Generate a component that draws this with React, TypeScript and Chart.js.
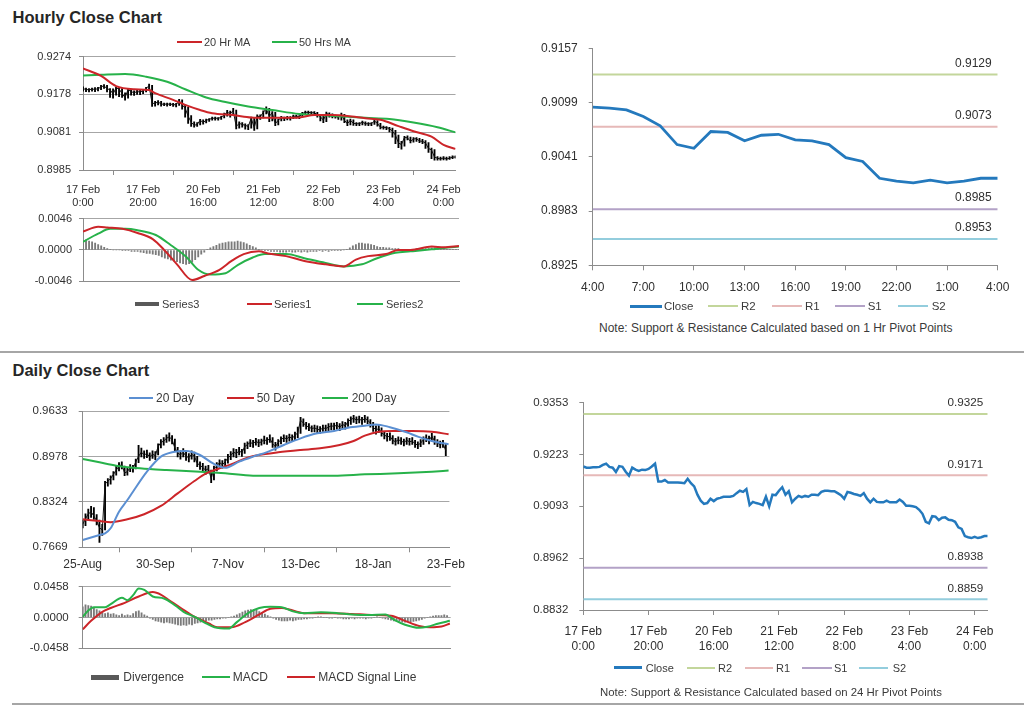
import React, { useEffect, useRef } from 'react';
import { Chart, registerables } from 'chart.js';

Chart.register(...registerables);

// ---------------- data: hourly (17 Feb 0:00 .. 24 Feb 4:00, trading hours) ----------------
const hourlyClose = [
  0.9193, 0.9190, 0.9190, 0.9191, 0.9191, 0.9192, 0.9197, 0.9200, 0.9192, 0.9190,
  0.9179, 0.9194, 0.9192, 0.9180, 0.9170, 0.9190, 0.9185, 0.9182, 0.9185, 0.9184,
  0.9187, 0.9193, 0.9200, 0.9155, 0.9155, 0.9159, 0.9153, 0.9153, 0.9153, 0.9153,
  0.9152, 0.9151, 0.9162, 0.9151, 0.9143, 0.9122, 0.9107, 0.9099, 0.9101, 0.9112,
  0.9106, 0.9112, 0.9114, 0.9117, 0.9117, 0.9117, 0.9119, 0.9126, 0.9132, 0.9129,
  0.9136, 0.9096, 0.9104, 0.9101, 0.9099, 0.9096, 0.9117, 0.9093, 0.9122, 0.9121,
  0.9132, 0.9141, 0.9122, 0.9131, 0.9103, 0.9112, 0.9119, 0.9116, 0.9119, 0.9117,
  0.9122, 0.9122, 0.9121, 0.9129, 0.9132, 0.9132, 0.9131, 0.9131, 0.9126, 0.9121,
  0.9112, 0.9129, 0.9127, 0.9124, 0.9122, 0.9119, 0.9126, 0.9112, 0.9103, 0.9112,
  0.9104, 0.9103, 0.9103, 0.9107, 0.9103, 0.9103, 0.9103, 0.9110, 0.9104, 0.9094,
  0.9094, 0.9093, 0.9091, 0.9084, 0.9074, 0.9054, 0.9050, 0.9068, 0.9067, 0.9058,
  0.9064, 0.9065, 0.9059, 0.9058, 0.9054, 0.9040, 0.9036, 0.9018, 0.9015, 0.9013,
  0.9016, 0.9013, 0.9015, 0.9018, 0.9018,
];
const hourlyHigh = [
  0.9197, 0.9194, 0.9193, 0.9194, 0.9195, 0.9196, 0.9201, 0.9203, 0.9201, 0.9193,
  0.9192, 0.9196, 0.9196, 0.9193, 0.9182, 0.9192, 0.9191, 0.9187, 0.9188, 0.9188,
  0.9190, 0.9196, 0.9204, 0.9201, 0.9160, 0.9162, 0.9160, 0.9156, 0.9156, 0.9156,
  0.9155, 0.9155, 0.9165, 0.9164, 0.9152, 0.9145, 0.9124, 0.9108, 0.9106, 0.9114,
  0.9113, 0.9115, 0.9116, 0.9120, 0.9120, 0.9119, 0.9122, 0.9130, 0.9137, 0.9135,
  0.9142, 0.9138, 0.9108, 0.9106, 0.9103, 0.9101, 0.9120, 0.9118, 0.9126, 0.9126,
  0.9136, 0.9146, 0.9142, 0.9134, 0.9132, 0.9115, 0.9122, 0.9120, 0.9122, 0.9121,
  0.9125, 0.9125, 0.9124, 0.9132, 0.9135, 0.9135, 0.9134, 0.9134, 0.9132, 0.9127,
  0.9122, 0.9133, 0.9131, 0.9128, 0.9125, 0.9124, 0.9130, 0.9127, 0.9113, 0.9115,
  0.9113, 0.9106, 0.9106, 0.9110, 0.9108, 0.9106, 0.9106, 0.9113, 0.9111, 0.9104,
  0.9097, 0.9096, 0.9094, 0.9092, 0.9086, 0.9074, 0.9058, 0.9071, 0.9072, 0.9069,
  0.9068, 0.9068, 0.9066, 0.9063, 0.9060, 0.9055, 0.9041, 0.9037, 0.9019, 0.9018,
  0.9019, 0.9018, 0.9019, 0.9021, 0.9021,
];
const hourlyLow = [
  0.9186, 0.9185, 0.9184, 0.9186, 0.9185, 0.9187, 0.9190, 0.9193, 0.9184, 0.9170,
  0.9168, 0.9176, 0.9172, 0.9170, 0.9163, 0.9168, 0.9176, 0.9175, 0.9178, 0.9177,
  0.9180, 0.9184, 0.9190, 0.9147, 0.9148, 0.9151, 0.9148, 0.9149, 0.9148, 0.9149,
  0.9147, 0.9146, 0.9150, 0.9140, 0.9120, 0.9104, 0.9096, 0.9094, 0.9096, 0.9100,
  0.9102, 0.9105, 0.9109, 0.9112, 0.9112, 0.9112, 0.9114, 0.9118, 0.9122, 0.9120,
  0.9126, 0.9090, 0.9092, 0.9094, 0.9089, 0.9088, 0.9092, 0.9086, 0.9090, 0.9114,
  0.9118, 0.9128, 0.9108, 0.9110, 0.9098, 0.9100, 0.9110, 0.9111, 0.9113, 0.9112,
  0.9116, 0.9117, 0.9116, 0.9120, 0.9127, 0.9127, 0.9126, 0.9126, 0.9120, 0.9110,
  0.9106, 0.9108, 0.9120, 0.9118, 0.9117, 0.9114, 0.9112, 0.9106, 0.9098, 0.9100,
  0.9099, 0.9098, 0.9098, 0.9100, 0.9099, 0.9098, 0.9098, 0.9101, 0.9097, 0.9090,
  0.9089, 0.9088, 0.9082, 0.9069, 0.9052, 0.9042, 0.9038, 0.9046, 0.9062, 0.9054,
  0.9056, 0.9058, 0.9055, 0.9052, 0.9040, 0.9030, 0.9014, 0.9010, 0.9010, 0.9010,
  0.9011, 0.9010, 0.9012, 0.9014, 0.9015,
];
const hourlyMA20Hours = [0, 6, 11, 17, 22, 24, 30, 34, 39, 43, 50, 56, 61, 66, 72, 77, 83, 88, 94, 99, 105, 110, 116, 120, 124];
const hourlyMA20 = [0.9244, 0.9225, 0.9199, 0.9191, 0.9189, 0.9181, 0.9164, 0.9151, 0.9138, 0.9130, 0.9125, 0.9119, 0.9118, 0.9118, 0.9119, 0.9125, 0.9125, 0.9123, 0.9117, 0.9113, 0.9097, 0.9084, 0.9070, 0.9049, 0.9039];
const hourlyMA50Hours = [0, 6, 14, 21, 28, 34, 41, 47, 55, 63, 72, 83, 94, 102, 110, 118, 124];
const hourlyMA50 = [0.9226, 0.9228, 0.9230, 0.9223, 0.9210, 0.9191, 0.9170, 0.9159, 0.9147, 0.9138, 0.9128, 0.9123, 0.9118, 0.9115, 0.9106, 0.9094, 0.9081];

const hourlySeries1Hours = [0, 5, 8, 13, 18, 23, 27, 31, 36, 40, 45, 49, 53, 58, 61, 67, 73, 80, 86, 90, 94, 100, 104, 108, 115, 119, 124];
const hourlySeries1 = [0.0027, 0.0034, 0.0033, 0.0031, 0.0025, 0.0016, -0.0001, -0.0021, -0.0044, -0.0038, -0.0029, -0.0016, -0.0006, -0.0002, -0.0005, -0.0009, -0.0016, -0.0021, -0.0024, -0.0014, -0.0009, -0.0006, 0.0000, 0.0000, 0.0005, 0.0004, 0.0006];
const hourlySeries2Hours = [0, 5, 9, 14, 18, 24, 29, 34, 38, 42, 47, 51, 56, 60, 67, 73, 80, 86, 92, 97, 103, 108, 115, 119, 124];
const hourlySeries2 = [0.0012, 0.0024, 0.0031, 0.0031, 0.0029, 0.0022, 0.0007, -0.0010, -0.0029, -0.0036, -0.0034, -0.0022, -0.0011, -0.0006, -0.0006, -0.0012, -0.0019, -0.0024, -0.0021, -0.0012, -0.0004, -0.0002, 0.0001, 0.0003, 0.0005];
const hourlySeries3 = [
  0.0014, 0.0015, 0.0013, 0.0012, 0.0010, 0.0008, 0.0006, 0.0004, 0.0002, 0.0001,
  0.0000, 0.0000, 0.0000, -0.0001, -0.0001, -0.0001, -0.0002, -0.0002, -0.0002, -0.0003,
  -0.0004, -0.0005, -0.0005, -0.0006, -0.0007, -0.0008, -0.0010, -0.0012, -0.0013, -0.0015,
  -0.0016, -0.0017, -0.0019, -0.0020, -0.0021, -0.0020, -0.0018, -0.0014, -0.0010, -0.0006,
  -0.0003, 0.0001, 0.0003, 0.0005, 0.0007, 0.0009, 0.0010, 0.0011, 0.0012, 0.0012,
  0.0012, 0.0013, 0.0012, 0.0011, 0.0009, 0.0007, 0.0005, 0.0003, 0.0001, 0.0000,
  -0.0001, -0.0001, -0.0002, -0.0002, -0.0002, -0.0003, -0.0003, -0.0003, -0.0002, -0.0003,
  -0.0003, -0.0002, -0.0003, -0.0002, -0.0003, -0.0002, -0.0002, -0.0002, -0.0001, -0.0002,
  -0.0001, -0.0002, -0.0001, -0.0001, -0.0001, -0.0001, 0.0000, 0.0001, 0.0003, 0.0006,
  0.0008, 0.0010, 0.0010, 0.0009, 0.0009, 0.0008, 0.0007, 0.0005, 0.0004, 0.0004,
  0.0003, 0.0003, 0.0002, 0.0002, 0.0002, 0.0001, 0.0001, 0.0001, 0.0001, 0.0001,
  0.0002, 0.0002, 0.0002, 0.0002, 0.0002, 0.0003, 0.0003, 0.0002, 0.0002, 0.0002,
  0.0001, 0.0001, 0.0001, 0.0001, 0.0001,
];
const hourlyXMax = 124;
const hourlyXTicks = [0, 20, 40, 60, 80, 100, 120];
const hourlyXLabels = [['17 Feb', '0:00'], ['17 Feb', '20:00'], ['20 Feb', '16:00'], ['21 Feb', '12:00'], ['22 Feb', '8:00'], ['23 Feb', '4:00'], ['24 Feb', '0:00']];
const hourlyPriceTicks = [0.8985, 0.9081, 0.9178, 0.9274];
const hourlyMacdTicks = [-0.0046, 0.0, 0.0046];

// ---------------- data: 1 Hr pivot chart (last 24 hours) ----------------
const hourPivotStart = 100;
const hourPivotXMax = 24;
const hourPivotXTicks = [0, 3, 6, 9, 12, 15, 18, 21, 24];
const hourPivotXLabels = ['4:00', '7:00', '10:00', '13:00', '16:00', '19:00', '22:00', '1:00', '4:00'];
const hourPivotTicks = [0.8925, 0.8983, 0.9041, 0.9099, 0.9157];
const pivotNames = ['R2', 'R1', 'S1', 'S2'];
const hourPivotValues = [0.9129, 0.9073, 0.8985, 0.8953];

// ---------------- data: 24 Hr pivot chart ----------------
const dayPivotTicks = [0.8832, 0.8962, 0.9093, 0.9223, 0.9353];
const dayPivotValues = [0.9325, 0.9171, 0.8938, 0.8859];

// ---------------- data: daily (25-Aug .. 23-Feb, trading days) ----------------
const dailyClose = [
  0.800, 0.808, 0.815, 0.818, 0.812, 0.805, 0.795, 0.792, 0.858, 0.862,
  0.866, 0.872, 0.878, 0.884, 0.886, 0.874, 0.876, 0.882, 0.880, 0.890,
  0.898, 0.904, 0.900, 0.902, 0.897, 0.901, 0.899, 0.912, 0.918, 0.920,
  0.924, 0.926, 0.922, 0.910, 0.903, 0.900, 0.904, 0.898, 0.896, 0.901,
  0.898, 0.888, 0.885, 0.882, 0.878, 0.880, 0.866, 0.880, 0.884, 0.889,
  0.886, 0.890, 0.896, 0.899, 0.904, 0.902, 0.906, 0.903, 0.912, 0.915,
  0.918, 0.916, 0.920, 0.917, 0.919, 0.922, 0.920, 0.924, 0.916, 0.912,
  0.918, 0.922, 0.925, 0.923, 0.926, 0.924, 0.928, 0.932, 0.950, 0.946,
  0.942, 0.940, 0.938, 0.939, 0.937, 0.936, 0.939, 0.938, 0.940, 0.942,
  0.941, 0.943, 0.940, 0.944, 0.942, 0.948, 0.951, 0.953, 0.950, 0.952,
  0.949, 0.953, 0.950, 0.946, 0.940, 0.936, 0.938, 0.932, 0.929, 0.926,
  0.927, 0.921, 0.919, 0.922, 0.920, 0.918, 0.921, 0.919, 0.920, 0.916,
  0.914, 0.917, 0.922, 0.925, 0.921, 0.927, 0.920, 0.917, 0.915, 0.917,
  0.906,
];
const dailyHigh = [
  0.806, 0.815, 0.822, 0.826, 0.824, 0.814, 0.806, 0.800, 0.862, 0.866,
  0.870, 0.876, 0.884, 0.889, 0.890, 0.884, 0.881, 0.886, 0.885, 0.894,
  0.914, 0.910, 0.906, 0.907, 0.903, 0.906, 0.905, 0.916, 0.922, 0.925,
  0.929, 0.932, 0.928, 0.923, 0.911, 0.906, 0.909, 0.905, 0.902, 0.906,
  0.904, 0.898, 0.890, 0.888, 0.884, 0.885, 0.878, 0.884, 0.889, 0.893,
  0.892, 0.894, 0.901, 0.905, 0.909, 0.908, 0.911, 0.908, 0.917, 0.919,
  0.922, 0.921, 0.924, 0.922, 0.923, 0.927, 0.925, 0.929, 0.925, 0.918,
  0.922, 0.926, 0.929, 0.928, 0.930, 0.929, 0.933, 0.940, 0.954, 0.952,
  0.947, 0.945, 0.942, 0.943, 0.942, 0.941, 0.943, 0.943, 0.945, 0.946,
  0.946, 0.947, 0.945, 0.948, 0.947, 0.952, 0.955, 0.957, 0.955, 0.956,
  0.954, 0.957, 0.955, 0.951, 0.947, 0.942, 0.943, 0.939, 0.934, 0.931,
  0.932, 0.928, 0.924, 0.926, 0.925, 0.923, 0.925, 0.924, 0.925, 0.921,
  0.919, 0.922, 0.926, 0.929, 0.927, 0.931, 0.927, 0.922, 0.920, 0.921,
  0.916,
];
const dailyLow = [
  0.795, 0.798, 0.806, 0.810, 0.807, 0.799, 0.774, 0.784, 0.792, 0.855,
  0.858, 0.864, 0.871, 0.877, 0.880, 0.870, 0.871, 0.876, 0.875, 0.880,
  0.889, 0.897, 0.895, 0.896, 0.892, 0.895, 0.893, 0.900, 0.910, 0.914,
  0.918, 0.920, 0.916, 0.906, 0.897, 0.894, 0.897, 0.892, 0.890, 0.894,
  0.890, 0.883, 0.879, 0.876, 0.872, 0.874, 0.860, 0.864, 0.877, 0.882,
  0.881, 0.884, 0.888, 0.893, 0.897, 0.896, 0.900, 0.898, 0.902, 0.909,
  0.912, 0.911, 0.914, 0.912, 0.914, 0.916, 0.915, 0.918, 0.911, 0.907,
  0.911, 0.916, 0.919, 0.918, 0.920, 0.919, 0.921, 0.925, 0.931, 0.941,
  0.937, 0.935, 0.933, 0.933, 0.932, 0.931, 0.934, 0.933, 0.935, 0.936,
  0.936, 0.937, 0.935, 0.938, 0.937, 0.941, 0.944, 0.947, 0.945, 0.946,
  0.944, 0.947, 0.945, 0.940, 0.934, 0.930, 0.932, 0.927, 0.923, 0.920,
  0.921, 0.916, 0.914, 0.916, 0.915, 0.913, 0.915, 0.914, 0.915, 0.911,
  0.909, 0.912, 0.915, 0.919, 0.916, 0.920, 0.915, 0.912, 0.910, 0.911,
  0.899,
];
const daily20Days = [0, 6, 8, 10, 13, 16, 18, 23, 28, 32, 37, 42, 47, 51, 56, 61, 66, 72, 78, 84, 90, 95, 101, 105, 110, 116, 120, 125, 131];
const daily20 = [0.7774, 0.7846, 0.7870, 0.7943, 0.8182, 0.8350, 0.8470, 0.8759, 0.8975, 0.9038, 0.9057, 0.8999, 0.8870, 0.8815, 0.8903, 0.8975, 0.9040, 0.9143, 0.9239, 0.9311, 0.9345, 0.9393, 0.9422, 0.9440, 0.9400, 0.9326, 0.9263, 0.9201, 0.9153];
const daily50Days = [0, 6, 10, 16, 22, 28, 34, 40, 44, 49, 54, 59, 63, 70, 78, 85, 92, 97, 101, 106, 111, 118, 125, 131];
const daily50 = [0.8072, 0.8048, 0.8031, 0.8072, 0.8145, 0.8265, 0.8446, 0.8624, 0.8730, 0.8807, 0.8879, 0.8960, 0.8999, 0.9038, 0.9071, 0.9095, 0.9143, 0.9201, 0.9278, 0.9335, 0.9345, 0.9345, 0.9335, 0.9297];
const daily200Days = [0, 6, 12, 18, 24, 30, 42, 51, 61, 78, 90, 101, 113, 125, 131];
const daily200 = [0.8941, 0.8893, 0.8845, 0.8816, 0.8797, 0.8783, 0.8759, 0.8735, 0.8701, 0.8701, 0.8701, 0.8720, 0.8735, 0.8759, 0.8775];

const dailyMacdDays = [0, 2, 4, 8, 10, 14, 16, 18, 20, 22, 25, 29, 33, 36, 40, 44, 47, 52, 55, 59, 63, 67, 71, 75, 79, 85, 91, 96, 102, 108, 111, 115, 120, 123, 127, 131];
const dailyMacd = [0.0008, 0.0104, 0.0154, 0.0154, 0.0200, 0.0296, 0.0258, 0.0335, 0.0435, 0.0412, 0.0315, 0.0285, 0.0181, 0.0085, 0.0008, -0.0088, -0.0146, -0.0165, -0.0069, 0.0065, 0.0142, 0.0162, 0.0155, 0.0092, 0.0065, 0.0077, 0.0065, 0.0046, 0.0038, 0.0046, -0.0031, -0.0108, -0.0154, -0.0138, -0.0089, -0.0050];
const dailySignalDays = [0, 3, 7, 10, 15, 20, 25, 28, 31, 35, 40, 45, 48, 53, 58, 63, 67, 71, 75, 79, 89, 96, 103, 110, 115, 120, 124, 128, 131];
const dailySignal = [-0.0177, -0.0050, 0.0085, 0.0142, 0.0220, 0.0315, 0.0380, 0.0340, 0.0255, 0.0142, 0.0008, -0.0089, -0.0146, -0.0146, -0.0069, 0.0046, 0.0131, 0.0142, 0.0104, 0.0065, 0.0065, 0.0054, 0.0038, 0.0027, -0.0050, -0.0127, -0.0146, -0.0135, -0.0089];
const dailyDivergence = [
  0.016, 0.019, 0.018, 0.017, 0.014, 0.012, 0.010, 0.007, 0.006, 0.007,
  0.005, 0.006, 0.004, 0.003, 0.005, 0.003, 0.004, 0.003, 0.006, 0.009,
  0.010, 0.007, 0.004, 0.002, -0.001, -0.003, -0.005, -0.006, -0.007, -0.008,
  -0.007, -0.008, -0.009, -0.010, -0.011, -0.012, -0.011, -0.012, -0.010, -0.011,
  -0.009, -0.008, -0.007, -0.006, -0.005, -0.004, -0.004, -0.003, -0.002, -0.002,
  -0.001, -0.001, 0.000, 0.001, 0.002, 0.004, 0.006, 0.008, 0.010, 0.011,
  0.012, 0.012, 0.011, 0.009, 0.007, 0.005, 0.003, 0.001, -0.001, -0.003,
  -0.004, -0.005, -0.005, -0.005, -0.004, -0.005, -0.004, -0.003, -0.003, -0.002,
  -0.002, -0.001, -0.001, 0.000, 0.001, 0.001, 0.000, 0.000, -0.001, -0.001,
  0.000, -0.001, -0.001, -0.002, -0.002, -0.002, -0.001, -0.002, -0.001, -0.001,
  -0.001, -0.002, -0.001, -0.001, 0.000, 0.001, 0.000, -0.001, -0.002, -0.003,
  -0.004, -0.005, -0.006, -0.006, -0.007, -0.007, -0.006, -0.007, -0.006, -0.005,
  -0.004, -0.003, -0.001, 0.000, 0.001, 0.002, 0.003, 0.003, 0.003, 0.004,
  0.003,
];
const dailyXMax = 131.3;
const dailyXTicks = [0, 26, 52, 78, 104, 130];
const dailyXLabels = ['25-Aug', '30-Sep', '7-Nov', '13-Dec', '18-Jan', '23-Feb'];
const dailyPriceTicks = [0.7669, 0.8324, 0.8978, 0.9633];
const dailyMacdTicks = [-0.0458, 0.0, 0.0458];

// ---------------- styling ----------------
const FONT = 'Arial, "Liberation Sans", Helvetica, sans-serif';
const TICK_TEXT = '#303030';
const LEGEND_TEXT = '#3a3a3a';
const GRID = '#a6a6a6';
const AXIS = '#8c8c8c';
const RED = '#cc2529';
const GREEN = '#27b24a';
const BLUE20 = '#5b8fd2';
const CLOSE_BLUE = '#2479bd';
const PIVOT_COLORS = ['#c3d69b', '#e6b9b8', '#b3a2c7', '#93cddd'];
const HIST = '#7a7a7a';

// ---------------- helpers ----------------
const seq = (ys: number[]) => ys.map((y, i) => ({ x: i, y }));
const pairs = (xs: number[], ys: number[]) => xs.map((x, i) => ({ x, y: ys[i] }));
const spans = (lo: number[], hi: number[]) => lo.map((l, i) => ({ x: i, y: [l, hi[i]] }));
const flat = (v: number, max: number) => [{ x: 0, y: v }, { x: max, y: v }];

const line = (data: any[], color: string, width: number, order = 1, smooth = true) => ({
  type: 'line',
  data,
  borderColor: color,
  backgroundColor: color,
  borderWidth: width,
  pointRadius: 0,
  fill: false,
  tension: 0,
  cubicInterpolationMode: smooth ? 'monotone' : 'default',
  order,
});
const bars = (data: any[], color: string, thickness: number, order = 5) => ({
  type: 'bar',
  data,
  backgroundColor: color,
  borderWidth: 0,
  barThickness: thickness,
  grouped: false,
  order,
});

function xAxis(o: any) {
  return {
    type: 'linear',
    min: 0,
    max: o.max,
    offset: false,
    afterBuildTicks: (a: any) => {
      a.ticks = o.ticks.map((v: number) => ({ value: v }));
    },
    afterFit: (a: any) => {
      a.height = o.height;
    },
    ticks: {
      display: o.show,
      autoSkip: false,
      maxRotation: 0,
      minRotation: 0,
      padding: o.pad || 0,
      color: TICK_TEXT,
      font: { family: FONT, size: o.size || 11, lineHeight: o.lineHeight || 1.2 },
      callback: (_v: any, i: number) => (o.labels ? o.labels[i] : ''),
    },
    grid: { display: o.show, drawOnChartArea: false, drawTicks: true, tickLength: 5, color: AXIS, tickColor: AXIS },
    border: { display: true, color: AXIS, width: 1 },
  };
}

function yAxis(o: any) {
  return {
    type: 'linear',
    min: o.ticks[0],
    max: o.ticks[o.ticks.length - 1],
    afterBuildTicks: (a: any) => {
      a.ticks = o.ticks.map((v: number) => ({ value: v }));
    },
    afterFit: (a: any) => {
      a.width = o.width;
    },
    ticks: {
      padding: o.pad,
      color: TICK_TEXT,
      font: { family: FONT, size: o.size },
      callback: (v: any) => Number(v).toFixed(4),
    },
    grid: { drawOnChartArea: o.gridOn, drawTicks: true, tickLength: 4, color: GRID, tickColor: AXIS },
    border: { display: true, color: AXIS, width: 1 },
  };
}

function baseOptions(x: any, y: any, padding: any, plugins: any = {}) {
  return {
    responsive: false,
    maintainAspectRatio: false,
    animation: false,
    devicePixelRatio: 1,
    events: [],
    layout: { padding },
    plugins: { legend: { display: false }, tooltip: { enabled: false }, title: { display: false }, ...plugins },
    scales: { x, y },
  };
}

const pivotLabelPlugin = {
  id: 'pivotLabels',
  afterDatasetsDraw(chart: any, _args: any, opts: any) {
    const { ctx, chartArea, scales } = chart;
    ctx.save();
    ctx.font = `${opts.size}px ${FONT}`;
    ctx.fillStyle = TICK_TEXT;
    ctx.textAlign = 'right';
    ctx.textBaseline = 'bottom';
    (opts.levels || []).forEach((v: number) => {
      const y = scales.y.getPixelForValue(v);
      ctx.fillText(v.toFixed(4), chartArea.right - opts.inset, y - opts.gap);
    });
    ctx.restore();
  },
};

// ---------------- chart configs ----------------
const hourlyPriceConfig = () => ({
  type: 'line',
  data: {
    datasets: [
      line(pairs(hourlyMA20Hours, hourlyMA20), RED, 2, 1),
      line(pairs(hourlyMA50Hours, hourlyMA50), GREEN, 2, 1),
      line(seq(hourlyClose), '#111', 1, 2, false),
      bars(spans(hourlyLow, hourlyHigh), '#000', 1.2, 3),
    ],
  },
  options: baseOptions(
    xAxis({ max: hourlyXMax, ticks: hourlyXTicks, labels: hourlyXLabels, size: 11, lineHeight: 1.12, pad: 9, height: 45, show: true }),
    yAxis({ ticks: hourlyPriceTicks, width: 83, size: 11, pad: 8 }),
    { top: 26.7, right: 11, left: 0, bottom: 0 }
  ),
});

const hourlyMacdConfig = () => ({
  type: 'line',
  data: {
    datasets: [
      line(pairs(hourlySeries1Hours, hourlySeries1), RED, 2, 1),
      line(pairs(hourlySeries2Hours, hourlySeries2), GREEN, 2, 1),
      bars(seq(hourlySeries3), HIST, 1.2, 3),
    ],
  },
  options: baseOptions(
    xAxis({ max: hourlyXMax, ticks: hourlyXTicks, height: 7.3, show: false }),
    yAxis({ ticks: hourlyMacdTicks, width: 83, size: 11, pad: 7, gridOn: true }),
    { top: 11.7, right: 11, left: 0, bottom: 0 }
  ),
});

const hourPivotConfig = () => ({
  type: 'line',
  data: {
    datasets: [
      line(seq(hourlyClose.slice(hourPivotStart)), CLOSE_BLUE, 2.8, 1, false),
      ...hourPivotValues.map((v, i) => ({ ...line(flat(v, hourPivotXMax), PIVOT_COLORS[i], 2, 2, false), label: pivotNames[i] })),
    ],
  },
  options: baseOptions(
    xAxis({ max: hourPivotXMax, ticks: hourPivotXTicks, labels: hourPivotXLabels, size: 12, lineHeight: 1.2, pad: 10, height: 39.7, show: true }),
    yAxis({ ticks: hourPivotTicks, width: 92.7, size: 12, pad: 11, gridOn: false }),
    { top: 17.3, right: 26.3, left: 0, bottom: 0 },
    { pivotLabels: { levels: hourPivotValues, size: 12, inset: 6, gap: 5 } }
  ),
  plugins: [pivotLabelPlugin],
});

const dailyPriceConfig = () => ({
  type: 'line',
  data: {
    datasets: [
      line(pairs(daily20Days, daily20), BLUE20, 2, 1),
      line(pairs(daily50Days, daily50), RED, 2, 1),
      line(pairs(daily200Days, daily200), GREEN, 2, 1),
      line(seq(dailyClose), '#111', 1, 2, false),
      bars(spans(dailyLow, dailyHigh), '#000', 1.2, 3),
    ],
  },
  options: baseOptions(
    xAxis({ max: dailyXMax, ticks: dailyXTicks, labels: dailyXLabels, size: 12, lineHeight: 1.2, pad: 5, height: 32.7, show: true }),
    yAxis({ ticks: dailyPriceTicks, width: 82.7, size: 11.5, pad: 11, gridOn: true }),
    { top: 26, right: 20, left: 0, bottom: 0 }
  ),
});

const dailyMacdConfig = () => ({
  type: 'line',
  data: {
    datasets: [
      line(pairs(dailyMacdDays, dailyMacd), GREEN, 2, 1),
      line(pairs(dailySignalDays, dailySignal), RED, 2, 1),
      bars(seq(dailyDivergence), HIST, 1.2, 3),
    ],
  },
  options: baseOptions(
    xAxis({ max: dailyXMax, ticks: dailyXTicks, height: 5.7, show: false }),
    yAxis({ ticks: dailyMacdTicks, width: 82.7, size: 11.5, pad: 10, gridOn: true }),
    { top: 10, right: 19.3, left: 0, bottom: 0 }
  ),
});

const dayPivotConfig = () => ({
  type: 'line',
  data: {
    datasets: [
      line(seq(hourlyClose), CLOSE_BLUE, 2.5, 1, false),
      ...dayPivotValues.map((v, i) => ({ ...line(flat(v, hourlyXMax), PIVOT_COLORS[i], 2, 2, false), label: pivotNames[i] })),
    ],
  },
  options: baseOptions(
    xAxis({ max: hourlyXMax, ticks: hourlyXTicks, labels: hourlyXLabels, size: 12, lineHeight: 1.27, pad: 9, height: 50, show: true }),
    yAxis({ ticks: dayPivotTicks, width: 83.3, size: 11.5, pad: 11, gridOn: false }),
    { top: 15.7, right: 36.3, left: 0, bottom: 0 },
    { pivotLabels: { levels: dayPivotValues, size: 11.7, inset: 4.5, gap: 5 } }
  ),
  plugins: [pivotLabelPlugin],
});

// ---------------- components ----------------
function ChartPanel(props: { left: number; top: number; width: number; height: number; build: () => any }) {
  const ref = useRef<HTMLCanvasElement>(null);
  useEffect(() => {
    const chart = new Chart(ref.current as HTMLCanvasElement, props.build());
    return () => chart.destroy();
  }, []);
  return (
    <canvas
      ref={ref}
      width={props.width}
      height={props.height}
      style={{ position: 'absolute', left: props.left, top: props.top, width: props.width, height: props.height }}
    />
  );
}

function Swatch(props: { x: number; y: number; w: number; h: number; color: string }) {
  return (
    <div style={{ position: 'absolute', left: props.x, top: props.y - props.h / 2, width: props.w, height: props.h, background: props.color }} />
  );
}

function Label(props: { x: number; y: number; size: number; children: any; color?: string }) {
  return (
    <div
      style={{
        position: 'absolute',
        left: props.x,
        top: props.y - 9,
        height: 18,
        lineHeight: '18px',
        fontSize: props.size,
        fontFamily: FONT,
        color: props.color || LEGEND_TEXT,
        whiteSpace: 'nowrap',
      }}
    >
      {props.children}
    </div>
  );
}

function Title(props: { top: number; children: any }) {
  return (
    <div
      style={{
        position: 'absolute',
        left: 12.5,
        top: props.top,
        fontFamily: FONT,
        fontWeight: 'bold',
        fontSize: 16.5,
        lineHeight: '16.5px',
        color: '#262626',
        whiteSpace: 'nowrap',
      }}
    >
      {props.children}
    </div>
  );
}

export default function App() {
  return (
    <div style={{ position: 'absolute', left: 0, top: 0, width: 1024, height: 706, background: '#fff', overflow: 'hidden' }}>
      <Title top={8.7}>Hourly Close Chart</Title>
      <Title top={361.7}>Daily Close Chart</Title>

      <ChartPanel left={0} top={30} width={470} height={185} build={hourlyPriceConfig} />
      <ChartPanel left={0} top={205} width={470} height={90} build={hourlyMacdConfig} />
      <ChartPanel left={500} top={30} width={524} height={275} build={hourPivotConfig} />
      <ChartPanel left={0} top={385} width={470} height={195} build={dailyPriceConfig} />
      <ChartPanel left={0} top={570} width={470} height={95} build={dailyMacdConfig} />
      <ChartPanel left={500} top={385} width={524} height={275} build={dayPivotConfig} />

      {/* hourly price legend */}
      <Swatch x={176.7} y={42.3} w={25} h={2} color={RED} />
      <Label x={204} y={42.3} size={11}>20 Hr MA</Label>
      <Swatch x={271.7} y={42.3} w={25} h={2} color={GREEN} />
      <Label x={299} y={42.3} size={11}>50 Hrs MA</Label>

      {/* hourly macd legend */}
      <Swatch x={135} y={304} w={24.3} h={4} color="#595959" />
      <Label x={162} y={304} size={11}>Series3</Label>
      <Swatch x={246.7} y={304} w={25} h={2} color={RED} />
      <Label x={274} y={304} size={11}>Series1</Label>
      <Swatch x={357.3} y={304} w={26} h={2} color={GREEN} />
      <Label x={386} y={304} size={11}>Series2</Label>

      {/* 1 hr pivot legend */}
      <Swatch x={630} y={306} w={31.7} h={3} color={CLOSE_BLUE} />
      <Label x={664} y={306} size={11.5}>Close</Label>
      <Swatch x={708} y={306} w={30} h={2} color={PIVOT_COLORS[0]} />
      <Label x={741} y={306} size={11.5}>{pivotNames[0]}</Label>
      <Swatch x={771.7} y={306} w={30} h={2} color={PIVOT_COLORS[1]} />
      <Label x={805} y={306} size={11.5}>{pivotNames[1]}</Label>
      <Swatch x={835} y={306} w={30} h={2} color={PIVOT_COLORS[2]} />
      <Label x={867.7} y={306} size={11.5}>{pivotNames[2]}</Label>
      <Swatch x={898.3} y={306} w={30} h={2} color={PIVOT_COLORS[3]} />
      <Label x={931.7} y={306} size={11.5}>{pivotNames[3]}</Label>
      <Label x={599} y={328.3} size={12}>Note: Support &amp; Resistance Calculated based on 1 Hr Pivot Points</Label>

      {/* daily price legend */}
      <Swatch x={129.3} y={397.7} w={24} h={2} color={BLUE20} />
      <Label x={156} y={397.7} size={12}>20 Day</Label>
      <Swatch x={226.7} y={397.7} w={27.3} h={2} color={RED} />
      <Label x={256.7} y={397.7} size={12}>50 Day</Label>
      <Swatch x={321.7} y={397.7} w={26.6} h={2} color={GREEN} />
      <Label x={351.7} y={397.7} size={12}>200 Day</Label>

      {/* daily macd legend */}
      <Swatch x={90.7} y={677.3} w={28.6} h={5} color="#595959" />
      <Label x={123.3} y={677.3} size={12}>Divergence</Label>
      <Swatch x={201.7} y={677.3} w={28.3} h={2} color={GREEN} />
      <Label x={232.7} y={677.3} size={12}>MACD</Label>
      <Swatch x={287.3} y={677.3} w={27.7} h={2} color={RED} />
      <Label x={318.3} y={677.3} size={12}>MACD Signal Line</Label>

      {/* 24 hr pivot legend */}
      <Swatch x={614} y={667.7} w={27.7} h={3} color={CLOSE_BLUE} />
      <Label x={645.7} y={667.7} size={11}>Close</Label>
      <Swatch x={686.7} y={667.7} w={28.3} h={2} color={PIVOT_COLORS[0]} />
      <Label x={718} y={667.7} size={11}>{pivotNames[0]}</Label>
      <Swatch x={745} y={667.7} w={27.7} h={2} color={PIVOT_COLORS[1]} />
      <Label x={776} y={667.7} size={11}>{pivotNames[1]}</Label>
      <Swatch x={801.7} y={667.7} w={30} h={2} color={PIVOT_COLORS[2]} />
      <Label x={834} y={667.7} size={11}>{pivotNames[2]}</Label>
      <Swatch x={859.3} y={667.7} w={29} h={2} color={PIVOT_COLORS[3]} />
      <Label x={892.7} y={667.7} size={11}>{pivotNames[3]}</Label>
      <Label x={600} y={692.3} size={11.4}>Note: Support &amp; Resistance Calculated based on 24 Hr Pivot Points</Label>

      {/* separators */}
      <div style={{ position: 'absolute', left: 0, top: 351, width: 1024, height: 2, background: '#a6a6a6' }} />
      <div style={{ position: 'absolute', left: 12, top: 703, width: 1012, height: 2, background: '#a6a6a6' }} />
    </div>
  );
}
